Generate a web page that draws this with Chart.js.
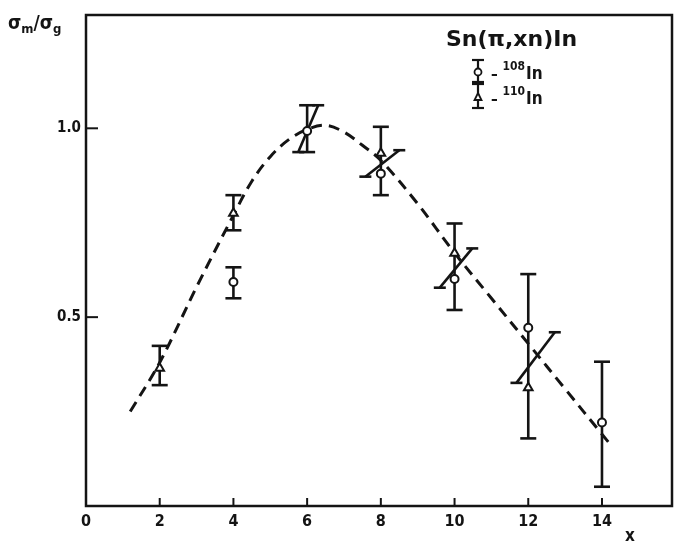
<!DOCTYPE html>
<html>
<head>
<meta charset="utf-8">
<script src="https://cdn.jsdelivr.net/npm/chart.js@4.4.1/dist/chart.umd.min.js"></script>
<style>
  html, body { margin: 0; padding: 0; background: #fff; }
  #wrap { width: 675px; height: 544px; position: relative; }
</style>
</head>
<body>
<div id="wrap"><canvas id="chart" width="675" height="544"></canvas></div>
<script>
const FONT = '"DejaVu Sans Condensed", "DejaVu Sans", sans-serif';
const TITLE_FONT = '"DejaVu Sans", sans-serif';
const INK = '#141414';

const xTickValues = [0, 2, 4, 6, 8, 10, 12, 14];
const yTickValues = [0.5, 1.0];
const yTickLabels = ['0.5', '1.0'];

// 108In, open circles
const in108X = [4, 6, 8, 10, 12, 14];
const in108Y = [0.593, 0.993, 0.880, 0.601, 0.472, 0.221];

// 110In, triangles
const in110X = [2, 4, 8, 10, 12];
const in110Y = [0.365, 0.775, 0.934, 0.669, 0.313];

// vertical error bars as drawn (low / high ends)
const barX  = [2, 4, 4, 6, 8, 10, 12, 14];
const barLo = [0.320, 0.730, 0.550, 0.937, 0.823, 0.519, 0.179, 0.051];
const barHi = [0.424, 0.823, 0.632, 1.061, 1.004, 0.748, 0.614, 0.382];

// slanted bars (centre, half extent in x and y)
const slantX  = [6.03, 8.04, 10.04, 12.2];
const slantY  = [0.999, 0.907, 0.630, 0.393];
const slantDx = [0.27, 0.46, 0.44, 0.52];
const slantDy = [0.062, 0.035, 0.052, 0.067];

// dashed curve
const curveX = [1.2, 2, 3, 4, 4.5, 5, 5.5, 6, 6.5, 7, 7.5, 8, 9, 10, 11, 12, 13, 14, 14.25];
const curveY = [0.25, 0.38, 0.58, 0.77, 0.86, 0.925, 0.97, 0.997, 1.008, 0.99, 0.955, 0.915, 0.80, 0.67, 0.55, 0.43, 0.31, 0.19, 0.16];

const toPoints = (xs, ys) => xs.map((x, i) => ({ x, y: ys[i] }));

function capLine(ctx, x, y, half) {
  ctx.beginPath();
  ctx.moveTo(x - half, y);
  ctx.lineTo(x + half, y);
  ctx.stroke();
}

const errorBars = {
  id: 'errorBars',
  beforeDatasetsDraw(chart) {
    const { ctx, scales: { x: sx, y: sy } } = chart;
    ctx.save();
    ctx.strokeStyle = INK;
    ctx.lineWidth = 2.6;
    ctx.lineCap = 'butt';
    barX.forEach((bx, i) => {
      const px = sx.getPixelForValue(bx);
      const lo = sy.getPixelForValue(barLo[i]);
      const hi = sy.getPixelForValue(barHi[i]);
      ctx.beginPath();
      ctx.moveTo(px, lo);
      ctx.lineTo(px, hi);
      ctx.stroke();
      capLine(ctx, px, lo, 8);
      capLine(ctx, px, hi, 8);
    });
    slantX.forEach((cx, i) => {
      const x0 = sx.getPixelForValue(cx - slantDx[i]);
      const y0 = sy.getPixelForValue(slantY[i] - slantDy[i]);
      const x1 = sx.getPixelForValue(cx + slantDx[i]);
      const y1 = sy.getPixelForValue(slantY[i] + slantDy[i]);
      ctx.beginPath();
      ctx.moveTo(x0, y0);
      ctx.lineTo(x1, y1);
      ctx.stroke();
      capLine(ctx, x0, y0, 6);
      capLine(ctx, x1, y1, 6);
    });
    ctx.restore();
  }
};

const frameAndText = {
  id: 'frameAndText',
  afterDraw(chart) {
    const { ctx, chartArea: a, scales: { x: sx, y: sy } } = chart;
    ctx.save();
    ctx.strokeStyle = INK;
    ctx.lineWidth = 2.5;
    ctx.strokeRect(a.left, a.top, a.right - a.left, a.bottom - a.top);

    // inward ticks
    ctx.lineWidth = 2;
    xTickValues.slice(1).forEach(v => {
      const px = sx.getPixelForValue(v);
      ctx.beginPath();
      ctx.moveTo(px, a.bottom);
      ctx.lineTo(px, a.bottom - 8);
      ctx.stroke();
    });
    yTickValues.forEach(v => {
      const py = sy.getPixelForValue(v);
      ctx.beginPath();
      ctx.moveTo(a.left, py);
      ctx.lineTo(a.left + 12, py);
      ctx.stroke();
    });

    ctx.fillStyle = INK;
    ctx.textBaseline = 'alphabetic';
    ctx.textAlign = 'left';

    // y title: sigma_m / sigma_g
    ctx.font = 'bold 19px ' + FONT;
    let tx = 8;
    ctx.fillText('σ', tx, 29); tx += ctx.measureText('σ').width;
    ctx.font = 'bold 13px ' + FONT;
    ctx.fillText('m', tx, 33); tx += ctx.measureText('m').width;
    ctx.font = 'bold 19px ' + FONT;
    ctx.fillText('/σ', tx, 29); tx += ctx.measureText('/σ').width;
    ctx.font = 'bold 13px ' + FONT;
    ctx.fillText('g', tx, 33);

    // x axis label
    ctx.font = 'bold 17px ' + FONT;
    ctx.fillText('x', 625, 541);

    // legend
    ctx.font = 'bold 22px ' + TITLE_FONT;
    ctx.fillText('Sn(π,xn)In', 446, 46);

    const symX = 478;
    const rows = [{ y: 72, lo: 82, hi: 60, mass: '108', style: 'circle' },
                  { y: 97, lo: 108, hi: 84, mass: '110', style: 'triangle' }];
    rows.forEach(r => {
      ctx.strokeStyle = INK;
      ctx.lineWidth = 2.2;
      ctx.beginPath();
      ctx.moveTo(symX, r.hi);
      ctx.lineTo(symX, r.lo);
      ctx.stroke();
      capLine(ctx, symX, r.hi, 6);
      capLine(ctx, symX, r.lo, 6);
      ctx.fillStyle = '#fff';
      ctx.lineWidth = 1.8;
      ctx.beginPath();
      if (r.style === 'circle') {
        ctx.arc(symX, r.y, 3.5, 0, Math.PI * 2);
      } else {
        ctx.moveTo(symX, r.y - 4);
        ctx.lineTo(symX + 3.5, r.y + 3);
        ctx.lineTo(symX - 3.5, r.y + 3);
        ctx.closePath();
      }
      ctx.fill();
      ctx.stroke();

      ctx.fillStyle = INK;
      let lx = 491;
      const base = r.y + 7;
      ctx.font = 'bold 15px ' + FONT;
      ctx.fillText('–', lx, base); lx += ctx.measureText('– ').width;
      ctx.font = 'bold 12px ' + FONT;
      ctx.fillText(r.mass, lx, base - 9); lx += ctx.measureText(r.mass).width + 1;
      ctx.font = 'bold 17px ' + FONT;
      ctx.fillText('In', lx, base);
    });
    ctx.restore();
  }
};

new Chart(document.getElementById('chart'), {
  type: 'scatter',
  data: {
    datasets: [
      {
        type: 'line',
        label: 'curve',
        data: toPoints(curveX, curveY),
        borderColor: INK,
        borderWidth: 3,
        borderDash: [11, 7],
        pointRadius: 0,
        fill: false,
        tension: 0.35,
        order: 3
      },
      {
        label: '110In',
        data: toPoints(in110X, in110Y),
        pointStyle: 'triangle',
        pointRadius: 5,
        backgroundColor: '#fff',
        borderColor: INK,
        borderWidth: 2,
        order: 2
      },
      {
        label: '108In',
        data: toPoints(in108X, in108Y),
        pointStyle: 'circle',
        pointRadius: 4,
        backgroundColor: '#fff',
        borderColor: INK,
        borderWidth: 2,
        order: 1
      }
    ]
  },
  options: {
    responsive: false,
    animation: false,
    devicePixelRatio: 1,
    layout: { autoPadding: false, padding: { top: 15, right: 3, left: 0, bottom: 0 } },
    plugins: { legend: { display: false }, tooltip: { enabled: false } },
    scales: {
      x: {
        type: 'linear',
        min: 0,
        max: 15.9,
        grid: { display: false, drawTicks: false },
        border: { display: false },
        afterBuildTicks: s => { s.ticks = xTickValues.map(v => ({ value: v })); },
        afterFit: s => { s.height = 38; s.paddingLeft = 0; s.paddingRight = 0; },
        ticks: {
          padding: 6,
          color: INK,
          font: { family: FONT, size: 16, weight: 'bold' },
          callback: v => String(v)
        }
      },
      y: {
        min: 0,
        max: 1.3,
        grid: { display: false, drawTicks: false },
        border: { display: false },
        afterBuildTicks: s => { s.ticks = yTickValues.map(v => ({ value: v })); },
        afterFit: s => { s.width = 86; s.paddingTop = 0; s.paddingBottom = 0; },
        ticks: {
          padding: 5,
          color: INK,
          font: { family: FONT, size: 15, weight: 'bold' },
          callback: v => yTickLabels[yTickValues.indexOf(v)]
        }
      }
    }
  },
  plugins: [errorBars, frameAndText]
});
</script>
</body>
</html>
